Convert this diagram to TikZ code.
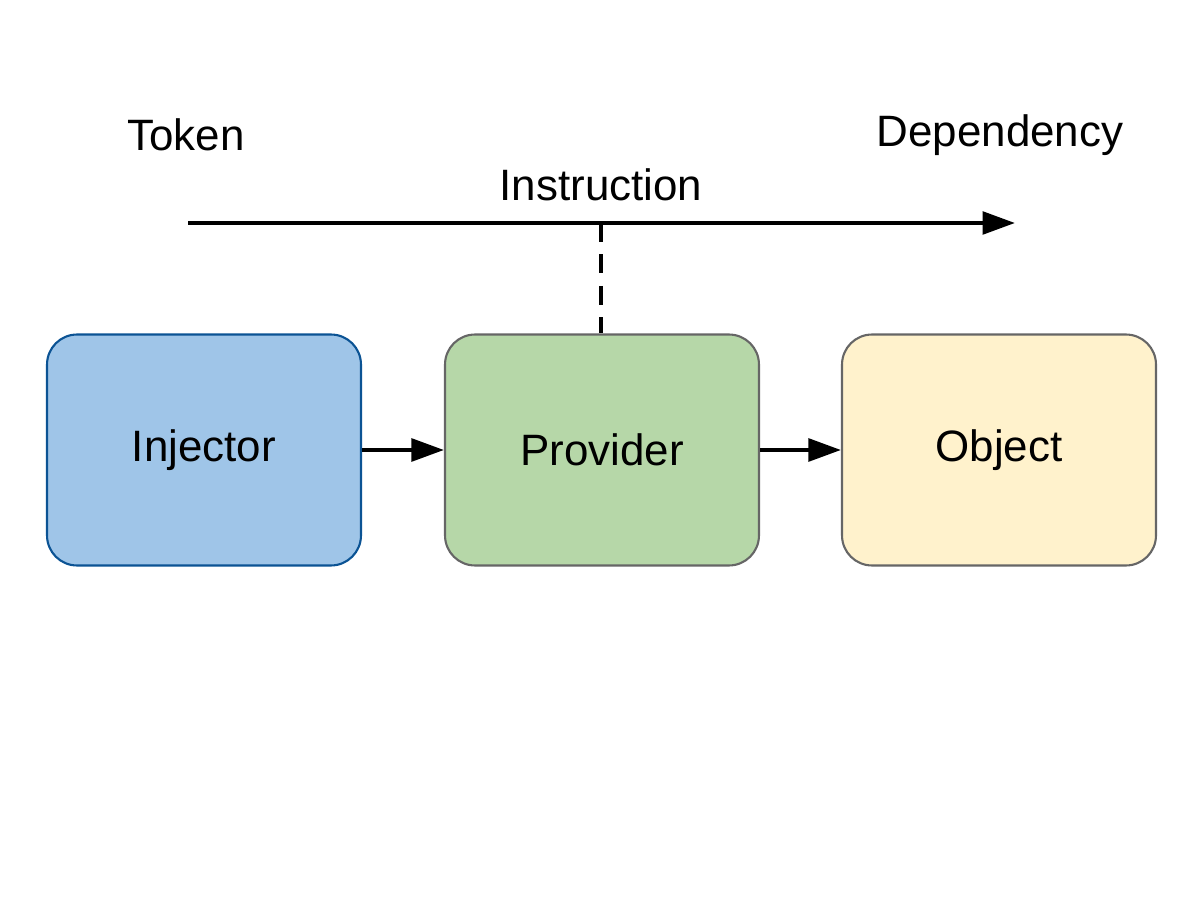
\documentclass[tikz,border=0pt]{standalone}
\usepackage{fontspec}
\setmainfont{Liberation Sans}
\usetikzlibrary{arrows.meta}
\definecolor{bfill}{HTML}{9FC5E8}
\definecolor{bdraw}{HTML}{0B5394}
\definecolor{gfill}{HTML}{B6D7A8}
\definecolor{yfill}{HTML}{FFF2CC}
\definecolor{gdraw}{HTML}{666666}
\begin{document}
\begin{tikzpicture}[x=0.02cm,y=-0.02cm,
  box/.style={rounded corners=0.6cm,minimum width=6.28cm,minimum height=4.62cm,line width=1.2pt,font=\fontsize{25}{30}\selectfont},
  lbl/.style={font=\fontsize{25}{30}\selectfont},
  arr/.style={line width=2.4pt,-{Triangle[length=0.65cm,width=0.45cm]}}]
\useasboundingbox (0,0) rectangle (1200,901);
\node[box,fill=bfill,draw=bdraw] (inj) at (204,450) {Injector};
\node[box,fill=gfill,draw=gdraw] (prov) at (602,450) {Provider};
\node[box,fill=yfill,draw=gdraw] (obj) at (999,450) {Object};
\draw[arr] (inj) -- (prov);
\draw[arr] (prov) -- (obj);
\coordinate (a) at (188,223);
\coordinate (b) at (1015,223);
\coordinate (m) at (601,223);
\draw[arr] (a) -- (b);
\draw[line width=2.4pt,dash pattern=on 0.38cm off 0.25cm] (m) -- (prov.north -| m);
\node[lbl] (tok) at (186,135) {Token};
\node[lbl] (dep) at (1000,135) {Dependency};
\node[lbl] (ins) at (601,185) {Instruction};
\end{tikzpicture}
\end{document}
